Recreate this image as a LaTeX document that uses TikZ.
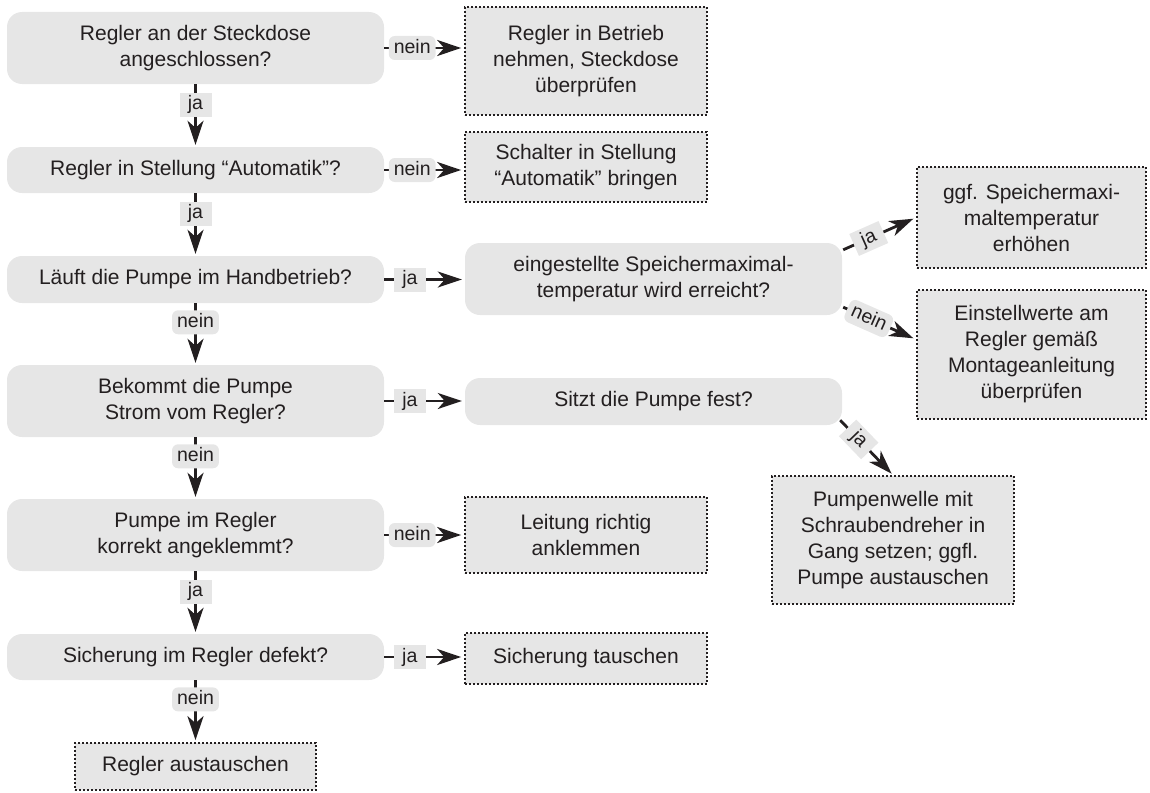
\documentclass[tikz,border=0pt]{standalone}
\usepackage{fontspec}
\setmainfont{Liberation Sans}
\usetikzlibrary{arrows.meta,calc}
\definecolor{ink}{HTML}{231F20}
\definecolor{boxgray}{HTML}{E6E6E6}
\begin{document}
\begin{tikzpicture}[x=1pt,y=-1pt,
 every node/.style={text=ink, font=\fontsize{21}{26}\selectfont, align=center},
 qbox/.style={fill=boxgray, rounded corners=15pt, minimum width=377pt, inner sep=0pt},
 abox/.style={fill=boxgray, draw=ink, line width=1.7pt, dash pattern=on 1.7pt off 2.3pt, inner sep=0pt},
 arr/.style={draw=ink, line width=2.8pt, -{Stealth[length=24pt,width=16pt,inset=7pt]}},
 lab/.style={fill=boxgray, font=\fontsize{19.5}{21}\selectfont, inner xsep=5pt, inner ysep=3pt, text height=14pt, text depth=4pt},
 ja/.style={lab, minimum width=32pt},
 nein/.style={lab, rounded corners=6pt},
]
\useasboundingbox (0,0) rectangle (1150,792);

% left column
\node[qbox, minimum height=72pt] (B1) at (195.5,48) {Regler an der Steckdose\\angeschlossen?};
\node[qbox, minimum height=46pt] (B2) at (195.5,170) {Regler in Stellung “Automatik”?};
\node[qbox, minimum height=47pt] (B3) at (195.5,279.5) {Läuft die Pumpe im Handbetrieb?};
\node[qbox, minimum height=72pt] (B4) at (195.5,401) {Bekommt die Pumpe\\Strom vom Regler?};
\node[qbox, minimum height=72pt] (B5) at (195.5,535) {Pumpe im Regler\\korrekt angeklemmt?};
\node[qbox, minimum height=46pt] (B6) at (195.5,657) {Sicherung im Regler defekt?};
\node[abox, minimum width=241pt, minimum height=47pt] (E) at (195.5,766.5) {Regler austauschen};

% middle column
\node[abox, minimum width=242pt, minimum height=108pt] (R1) at (586,61) {Regler in Betrieb\\nehmen, Steckdose\\überprüfen};
\node[abox, minimum width=242pt, minimum height=70pt] (R2) at (586,167) {Schalter in Stellung\\“Automatik” bringen};
\node[qbox, minimum height=72pt] (M1) at (653.5,279) {eingestellte Speichermaximal-\\temperatur wird erreicht?};
\node[qbox, minimum height=47pt] (M2) at (653.5,401.5) {Sitzt die Pumpe fest?};
\node[abox, minimum width=242pt, minimum height=76pt] (L) at (586,535) {Leitung richtig\\anklemmen};
\node[abox, minimum width=242pt, minimum height=51pt] (S) at (586,658.5) {Sicherung tauschen};

% right column
\node[abox, minimum width=229pt, minimum height=101pt] (R3) at (1031.5,217.5) {ggf. Speichermaxi-\\maltemperatur\\erhöhen};
\node[abox, minimum width=229pt, minimum height=129pt] (R4) at (1031.5,354.5) {Einstellwerte am\\Regler gemäß\\Montageanleitung\\überprüfen};
\node[abox, minimum width=242pt, minimum height=128pt] (R5) at (893,540) {Pumpenwelle mit\\Schraubendreher in\\Gang setzen; ggfl.\\Pumpe austauschen};

% vertical arrows
\draw[arr, shorten >=2pt] (B1) -- node[ja,pos=.33]{ja} (B2);
\draw[arr, shorten >=2pt] (B2) -- node[ja,pos=.33]{ja} (B3);
\draw[arr, shorten >=2pt] (B3) -- node[nein,pos=.31]{nein} (B4);
\draw[arr, shorten >=2pt] (B4) -- node[nein,pos=.31]{nein} (B5);
\draw[arr, shorten >=2pt] (B5) -- node[ja,pos=.33]{ja} (B6);
\draw[arr, shorten >=2pt] (B6) -- node[nein,pos=.31]{nein} (E);

% horizontal arrows
\draw[arr, shorten >=3pt] (B1.east) -- node[nein,pos=.35]{nein} (B1.east -| R1.west);
\draw[arr, shorten >=3pt] (B2.east) -- node[nein,pos=.35]{nein} (B2.east -| R2.west);
\draw[arr, shorten >=3pt] (B3.east) -- node[ja,pos=.32]{ja} (B3.east -| M1.west);
\draw[arr, shorten >=3pt] (B4.east) -- node[ja,pos=.32]{ja} (B4.east -| M2.west);
\draw[arr, shorten >=3pt] (B5.east) -- node[nein,pos=.35]{nein} (B5.east -| L.west);
\draw[arr, shorten >=3pt] (B6.east) -- node[ja,pos=.32]{ja} (B6.east -| S.west);

% diagonal arrows
\coordinate (m1a) at ($(M1.north east)+(1,7)$);
\coordinate (m1b) at ($(M1.south east)+(1,-8)$);
\coordinate (m2a) at ($(M2.south east)+(-2,-5)$);
\coordinate (r4in) at ($(R4.west)+(0,-15)$);
\draw[arr, shorten >=3pt] (m1a) -- node[ja,sloped,pos=.35]{ja} (R3.west);
\draw[arr, shorten >=3pt] (m1b) -- node[nein,sloped,pos=.35]{nein} (r4in);
\draw[arr, shorten >=2pt] (m2a) -- node[ja,sloped,pos=.35]{ja} (R5.north);
\end{tikzpicture}
\end{document}
